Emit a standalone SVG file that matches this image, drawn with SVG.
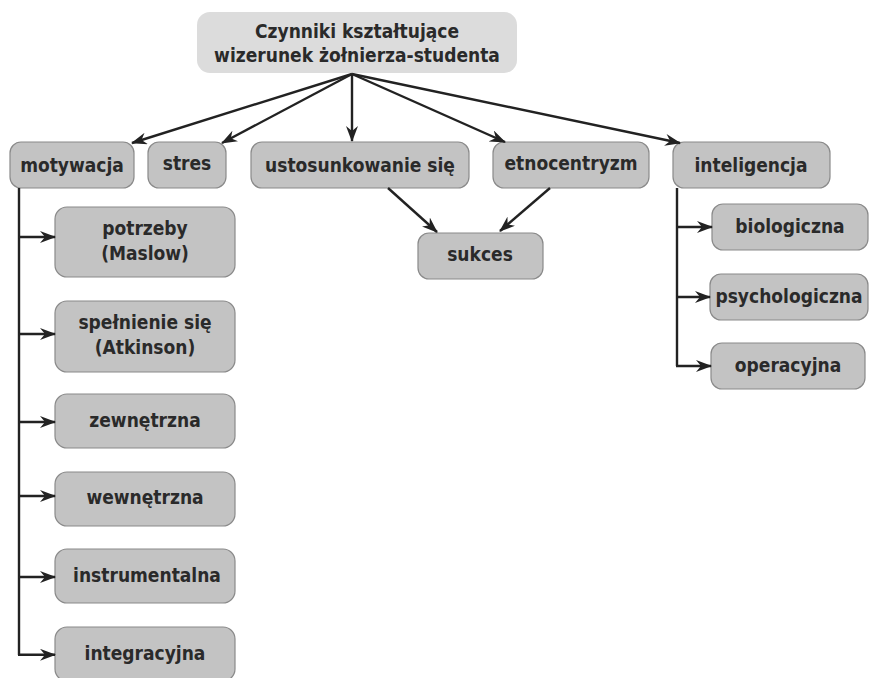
<svg xmlns="http://www.w3.org/2000/svg" width="872" height="678" viewBox="0 0 872 678">
<style>
.box{fill:#c3c3c3;stroke:#8a8a8a;stroke-width:1.2}
.title{fill:#dcdcdc;stroke:none}
text{font-family:"Liberation Sans Narrow","DejaVu Sans Condensed","Roboto Condensed",sans-serif;font-weight:bold;font-size:19px;fill:#2a2a2a;text-anchor:middle}
.c{fill:none;stroke:#222;stroke-width:2.4}
</style>
<defs>
<marker id="ah" viewBox="0 0 16 12" refX="15" refY="6" markerWidth="16" markerHeight="12" markerUnits="userSpaceOnUse" orient="auto">
<path d="M0,0 L16,6 L0,12 L5,6 z" fill="#222"/>
</marker>
</defs>
<g id="n-title"><rect class="title" x="197" y="12" width="320" height="61" rx="13"/><text x="357" y="38">Czynniki kształtujące</text><text x="357" y="62">wizerunek żołnierza-studenta</text></g>
<g id="n-motywacja"><rect class="box" x="10" y="142" width="124" height="46" rx="11"/><text x="72" y="172">motywacja</text></g>
<g id="n-stres"><rect class="box" x="148" y="142" width="78" height="46" rx="11"/><text x="187" y="170">stres</text></g>
<g id="n-ustosunkowanie"><rect class="box" x="251" y="142" width="218" height="46" rx="11"/><text x="360" y="172">ustosunkowanie się</text></g>
<g id="n-etnocentryzm"><rect class="box" x="493" y="142" width="156" height="46" rx="11"/><text x="571" y="170">etnocentryzm</text></g>
<g id="n-inteligencja"><rect class="box" x="673" y="142" width="157" height="46" rx="11"/><text x="751" y="172">inteligencja</text></g>
<g id="n-sukces"><rect class="box" x="418" y="233" width="125" height="46" rx="11"/><text x="480" y="261">sukces</text></g>
<g id="n-biologiczna"><rect class="box" x="712" y="204" width="156" height="46" rx="11"/><text x="790" y="233">biologiczna</text></g>
<g id="n-psychologiczna"><rect class="box" x="710" y="274" width="158" height="46" rx="11"/><text x="789" y="303">psychologiczna</text></g>
<g id="n-operacyjna"><rect class="box" x="711" y="343" width="154" height="46" rx="11"/><text x="788" y="372">operacyjna</text></g>
<g id="n-potrzeby"><rect class="box" x="55" y="207" width="180" height="70" rx="12"/><text x="145" y="235">potrzeby</text><text x="145" y="260">(Maslow)</text></g>
<g id="n-spelnienie"><rect class="box" x="55" y="301" width="180" height="71" rx="12"/><text x="145" y="329">spełnienie się</text><text x="145" y="354">(Atkinson)</text></g>
<g id="n-zewnetrzna"><rect class="box" x="55" y="394" width="180" height="54" rx="12"/><text x="145" y="427">zewnętrzna</text></g>
<g id="n-wewnetrzna"><rect class="box" x="55" y="472" width="180" height="54" rx="12"/><text x="145" y="504">wewnętrzna</text></g>
<g id="n-instrumentalna"><rect class="box" x="55" y="549" width="180" height="54" rx="12"/><text x="147" y="582">instrumentalna</text></g>
<g id="n-integracyjna"><rect class="box" x="55" y="627" width="180" height="54" rx="12"/><text x="145" y="660">integracyjna</text></g>
<g id="connectors">
<line class="c" x1="352" y1="74" x2="132" y2="143" marker-end="url(#ah)"/>
<line class="c" x1="352" y1="74" x2="222" y2="143" marker-end="url(#ah)"/>
<line class="c" x1="352" y1="74" x2="352" y2="141" marker-end="url(#ah)"/>
<line class="c" x1="352" y1="74" x2="505" y2="142" marker-end="url(#ah)"/>
<line class="c" x1="352" y1="74" x2="680" y2="143" marker-end="url(#ah)"/>
<line class="c" x1="388" y1="188" x2="437" y2="232" marker-end="url(#ah)"/>
<line class="c" x1="550" y1="188" x2="500" y2="231" marker-end="url(#ah)"/>
<path class="c" d="M19,188 V655"/>
<line class="c" x1="18" y1="237" x2="55" y2="237" marker-end="url(#ah)"/>
<line class="c" x1="18" y1="334" x2="55" y2="334" marker-end="url(#ah)"/>
<line class="c" x1="18" y1="422" x2="55" y2="422" marker-end="url(#ah)"/>
<line class="c" x1="18" y1="496" x2="55" y2="496" marker-end="url(#ah)"/>
<line class="c" x1="18" y1="577" x2="55" y2="577" marker-end="url(#ah)"/>
<line class="c" x1="18" y1="654.8" x2="55" y2="654.8" marker-end="url(#ah)"/>
<path class="c" d="M677,188 V366"/>
<line class="c" x1="676" y1="227" x2="712" y2="227" marker-end="url(#ah)"/>
<line class="c" x1="676" y1="297" x2="710" y2="297" marker-end="url(#ah)"/>
<line class="c" x1="676" y1="366" x2="711" y2="366" marker-end="url(#ah)"/>
</g>
</svg>
